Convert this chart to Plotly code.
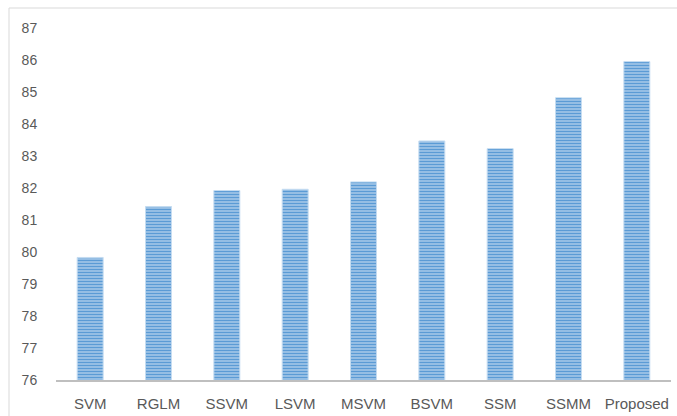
import plotly.graph_objects as go

# Accuracy (%) of each classifier
methods = ["SVM", "RGLM", "SSVM", "LSVM", "MSVM", "BSVM", "SSM", "SSMM", "Proposed"]
accuracy = [79.83, 81.42, 81.92, 81.96, 82.19, 83.47, 83.23, 84.82, 85.95]
y_ticks = list(range(76, 88))

fig = go.Figure(
    go.Bar(
        x=methods,
        y=accuracy,
        base=0,
        marker=dict(
            color="#A9CBEB",
            line=dict(color="#C5DCF1", width=1),
            pattern=dict(
                shape="-",
                fgcolor="#5B9BD5",
                bgcolor="#B0CFEC",
                size=3,
                solidity=0.55,
                fillmode="replace",
            ),
        ),
    )
)

font_family = "Liberation Sans, Arial, sans-serif"

fig.update_layout(
    width=677,
    height=416,
    margin=dict(l=56, r=6, t=28, b=36),
    paper_bgcolor="white",
    plot_bgcolor="white",
    bargap=0.62,
    showlegend=False,
    font=dict(family=font_family, size=14, color="#595959"),
    xaxis=dict(
        automargin=False,
        showline=True,
        linecolor="#BFBFBF",
        linewidth=2,
        showgrid=False,
        ticks="outside",
        ticklen=9,
        tickcolor="rgba(0,0,0,0)",
        tickfont=dict(size=15, color="#595959"),
    ),
    yaxis=dict(
        automargin=False,
        range=[76, 87],
        tickvals=y_ticks,
        showgrid=False,
        zeroline=False,
        showline=False,
        ticks="outside",
        ticklen=15,
        tickcolor="rgba(0,0,0,0)",
        tickfont=dict(size=14, color="#595959"),
    ),
    shapes=[
        # outer chart frame
        dict(
            type="rect",
            xref="paper",
            yref="paper",
            x0=-0.0764,
            x1=1.02,
            y0=-0.12,
            y1=1.0568,
            line=dict(color="#D9D9D9", width=1),
            fillcolor="rgba(0,0,0,0)",
            layer="below",
        )
    ],
)

fig.write_html("out.html")
